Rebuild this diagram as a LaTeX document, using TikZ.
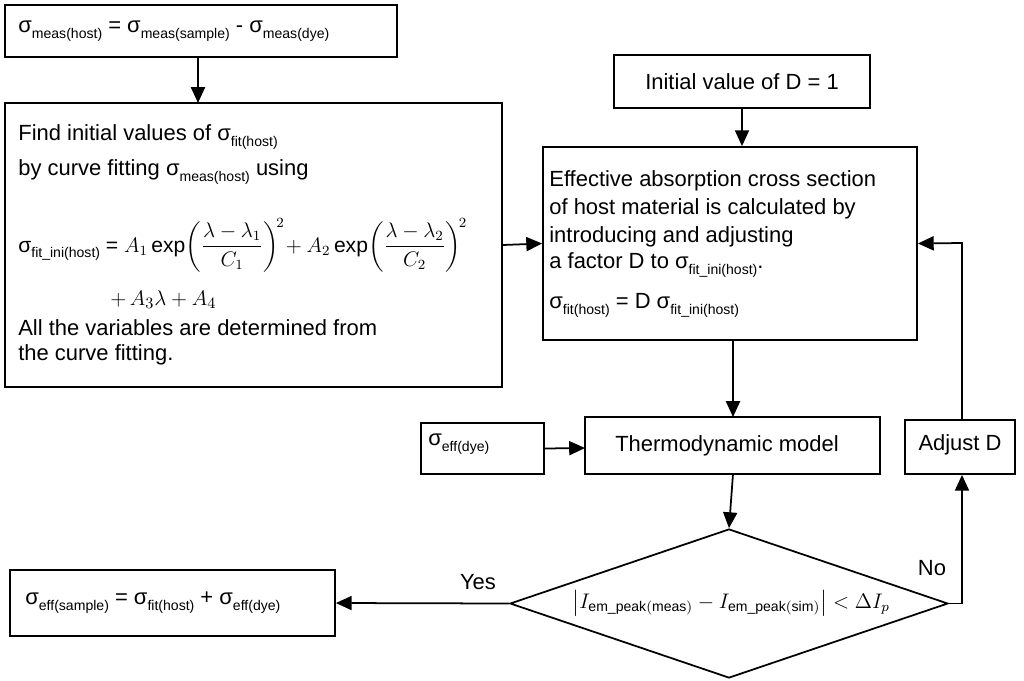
\documentclass[tikz,border=0pt]{standalone}
\usepackage{fontspec}
\setmainfont{Liberation Sans}
\usepackage{amsmath}
\usetikzlibrary{shapes.geometric,arrows.meta}
\newcommand{\sgm}[1]{σ\raisebox{-0.5ex}{\footnotesize #1}}
\begin{document}
\begin{tikzpicture}[x=0.02cm,y=-0.02cm,
  box/.style={draw,line width=1pt,inner sep=0pt},
  arr/.style={-{Triangle[length=9pt,width=8pt]},line width=1pt},
  txt/.style={font=\fontsize{12.5}{15}\selectfont,inner sep=0pt,anchor=west}]
\useasboundingbox (0,0) rectangle (1024,680);
\node[box,minimum width=392*0.02cm,minimum height=52*0.02cm] (top) at (201,31) {};
\node[txt] at (18,31) {\sgm{meas(host)} = \sgm{meas(sample)} - \sgm{meas(dye)}};
\node[box,minimum width=497*0.02cm,minimum height=284*0.02cm] (left) at (253.5,245) {};
\node[txt] at (18,137) {Find initial values of \sgm{fit(host)}};
\node[txt] at (18,172) {by curve fitting \sgm{meas(host)} using};
\node[txt,font=\fontsize{12}{14}\selectfont] at (18,245) {\sgm{fit\_ini(host)} = $A_1\exp\!\left(\dfrac{\lambda-\lambda_1}{C_1}\right)^{\!2}\!+A_2\exp\!\left(\dfrac{\lambda-\lambda_2}{C_2}\right)^{\!2}$};
\node[txt,font=\fontsize{12.5}{15}\selectfont] at (110,300) {$+\,A_3\lambda+A_4$};
\node[txt] at (18,328) {All the variables are determined from};
\node[txt] at (18,355) {the curve fitting.};
\node[box,minimum width=256*0.02cm,minimum height=53*0.02cm] (init) at (742,81.5) {};
\node[txt,anchor=center] at (742,81.5) {Initial value of D = 1};
\node[box,minimum width=374*0.02cm,minimum height=193*0.02cm] (eff) at (730,243.5) {};
\node[txt] at (549,181) {Effective absorption cross section};
\node[txt] at (549,209) {of host material is calculated by};
\node[txt] at (549,237) {introducing and adjusting};
\node[txt] at (549,265) {a factor D to \sgm{fit\_ini(host)}.};
\node[txt] at (549,305) {\sgm{fit(host)} = D \sgm{fit\_ini(host)}};
\node[box,minimum width=123*0.02cm,minimum height=51*0.02cm] (dye) at (482.5,448.5) {};
\node[txt] at (428,444) {\sgm{eff(dye)}};
\node[box,minimum width=295*0.02cm,minimum height=57*0.02cm] (thermo) at (732.5,445.5) {};
\node[txt,anchor=center] at (727,445.5) {Thermodynamic model};
\node[box,minimum width=110*0.02cm,minimum height=54*0.02cm] (adj) at (960,447) {};
\node[txt,anchor=center] at (960,445) {Adjust D};
\node[draw,line width=1pt,diamond,minimum width=438*0.02cm,minimum height=149*0.02cm,inner sep=0pt] (dia) at (729,603.5) {};
\node[inner sep=0pt,font=\fontsize{12}{14}\selectfont] at (731,603) {$\left|I_{\mathrm{em\_peak(meas)}}-I_{\mathrm{em\_peak(sim)}}\right|<\Delta I_p$};
\node[box,minimum width=325*0.02cm,minimum height=66*0.02cm] (res) at (172.5,603) {};
\node[txt] at (25,603) {\sgm{eff(sample)} = \sgm{fit(host)} + \sgm{eff(dye)}};
\node[txt,anchor=center] at (478,582) {Yes};
\node[txt,anchor=center] at (932,568) {No};
\draw[arr] (top.south -| 198,0) -- (198,103);
\draw[arr] (init.south) -- (eff.north -| init.south);
\draw[arr] (left.east) -- (eff.west);
\draw[arr] (eff.south -| 733,0) -- (733,417);
\draw[arr] (dye.east) -- (585,448);
\draw[arr] (733,474) -- (dia.north);
\draw[arr] (dia.west) -- (res.east);
\draw[arr] (dia.east) -- (962,603.5) -- (adj.south -| 962,0);
\draw[arr] (adj.north -| 962,0) -- (962,243) -- (eff.east);
\end{tikzpicture}
\end{document}
